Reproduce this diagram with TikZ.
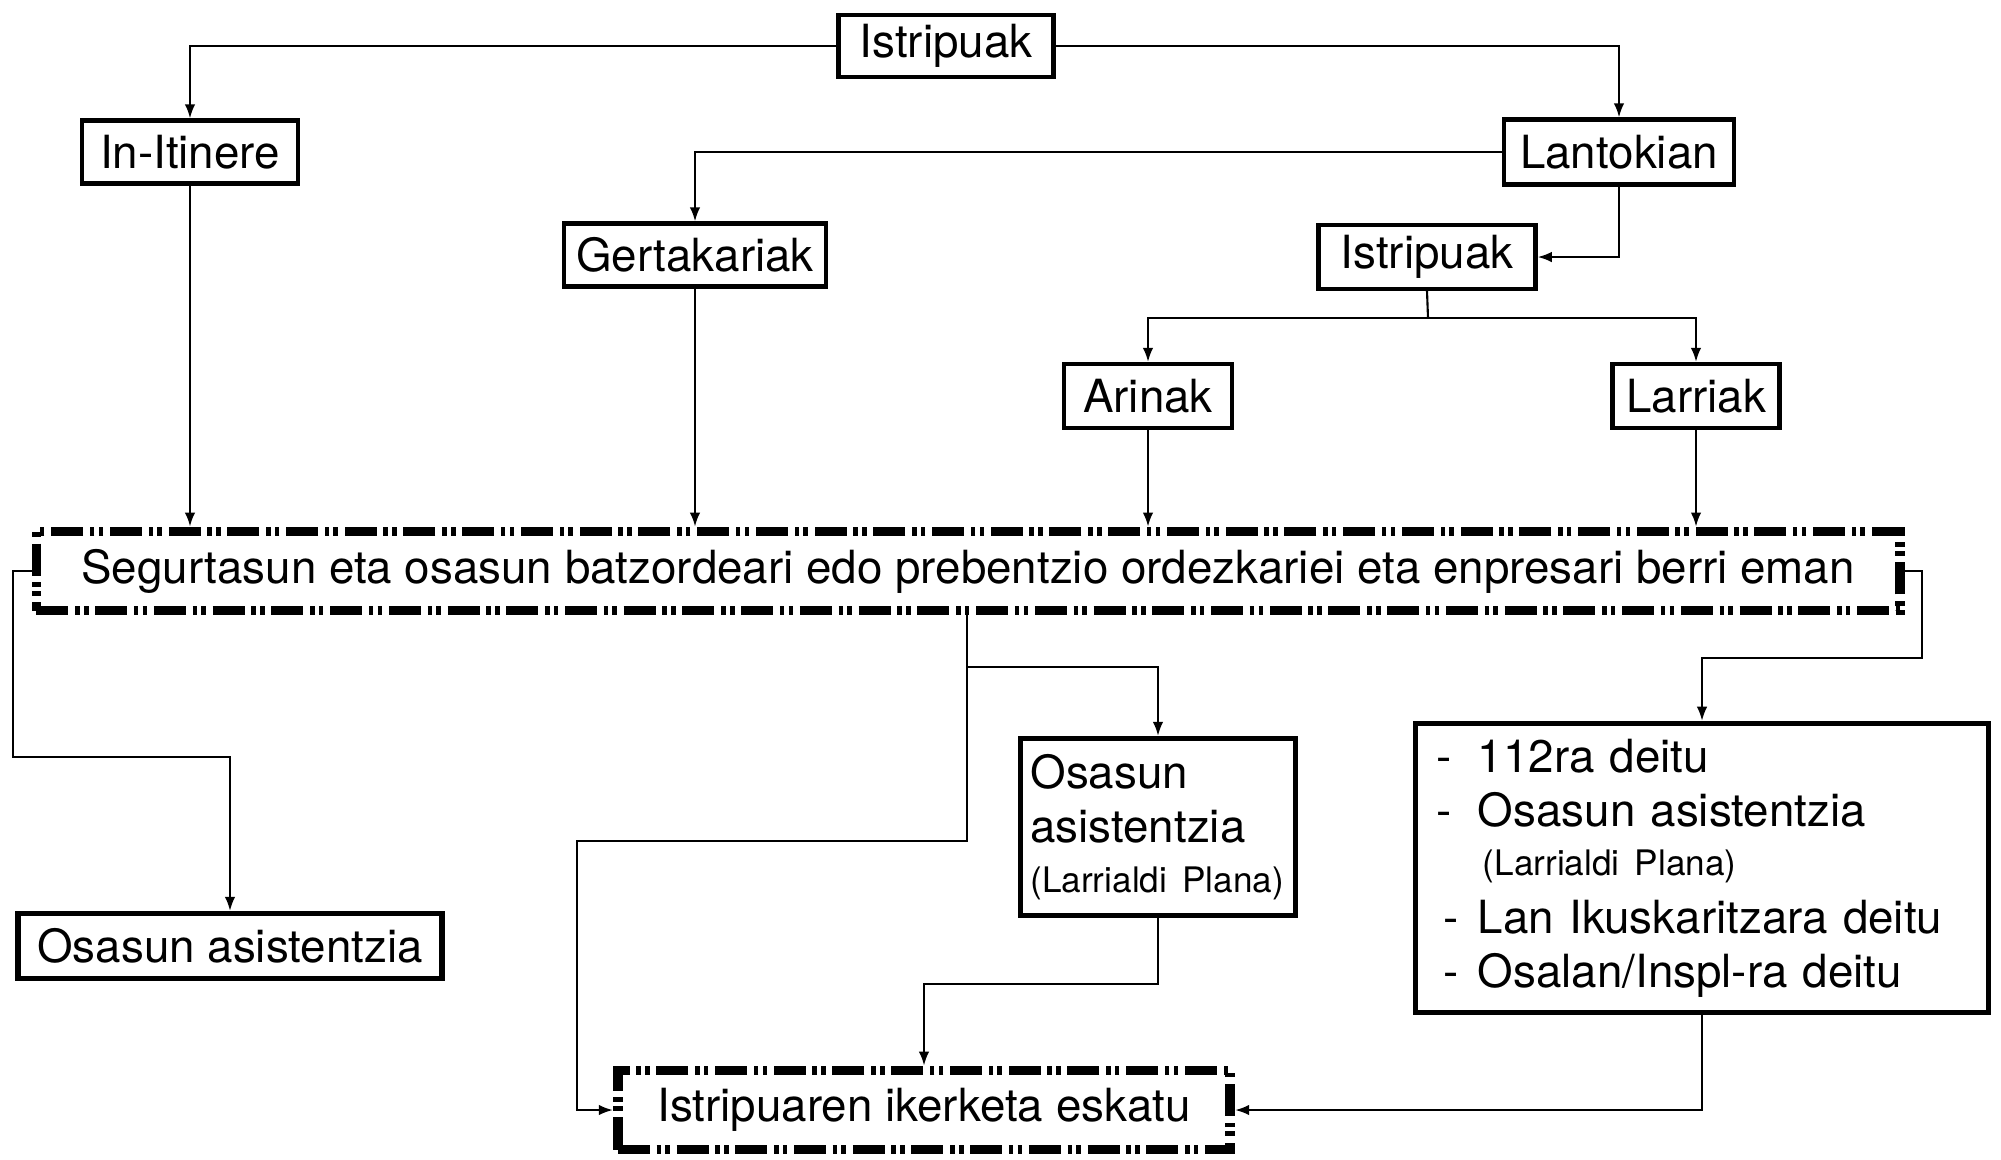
\documentclass[tikz,border=0pt]{standalone}
\usepackage{fontspec}
\setmainfont{TeX Gyre Heros}
\usetikzlibrary{arrows.meta}

\newcommand{\deitulerro}[2][0pt]{\hspace*{#1}\makebox[\dimexpr0.41cm-#1\relax][l]{-}#2}

\begin{document}
\begin{tikzpicture}[x=0.01cm,y=-0.01cm,
    >={Latex[length=4pt,width=3pt]},
    every path/.style={line width=0.6pt},
    smallbox/.style={draw,line width=1.2pt,inner sep=0pt,
      font=\fontsize{13}{15.4}\selectfont},
    bigbox/.style={draw,line width=1.5pt,inner sep=0pt,
      font=\fontsize{13}{15.4}\selectfont},
    dashdotbox/.style={draw,line width=2.8pt,inner sep=0pt,
      dash pattern=on 9.1pt off 1.9pt on 1.3pt off 1.2pt on 1.3pt off 1.9pt,
      font=\fontsize{13}{15.4}\selectfont}]
  \useasboundingbox (0,0) rectangle (2001,1159);

  \node[smallbox,minimum width=2.15cm,minimum height=0.62cm] (top) at (946,46) {Istripuak};
  \node[smallbox,minimum width=2.16cm,minimum height=0.63cm] (itin) at (190,152) {In-Itinere};
  \node[smallbox,minimum width=2.30cm,minimum height=0.65cm] (lant) at (1619,152) {Lantokian};
  \node[smallbox,minimum width=2.62cm,minimum height=0.63cm] (gert) at (695,255) {Gertakariak};
  \node[smallbox,minimum width=2.17cm,minimum height=0.64cm] (istr) at (1427,257) {Istripuak};
  \node[smallbox,minimum width=1.68cm,minimum height=0.64cm] (arin) at (1148,396) {Arinak};
  \node[smallbox,minimum width=1.67cm,minimum height=0.64cm] (larr) at (1696,396) {Larriak};

  \node[dashdotbox,minimum width=18.62cm,minimum height=0.79cm] (segur) at (968,571)
    {Segurtasun eta osasun batzordeari edo prebentzio ordezkariei eta enpresari berri eman};

  \node[bigbox,minimum width=4.24cm,minimum height=0.65cm] (osasL) at (230,946) {Osasun asistentzia};
  \node[bigbox,minimum width=2.75cm,minimum height=1.77cm,text width=2.55cm,align=left] (osasM) at (1158,827)
    {Osasun\\ asistentzia\\[-1.4pt] {\fontsize{10}{12}\selectfont (Larrialdi Plana)}};
  \node[bigbox,minimum width=5.73cm,minimum height=2.89cm,text width=5.3cm,align=left] (deitu) at (1702,868)
    {\deitulerro{112ra deitu}\\
     \deitulerro{Osasun asistentzia}\\[-1.4pt]
     \hspace*{0.46cm}{\fontsize{10}{12}\selectfont (Larrialdi Plana)}\\[1pt]
     \deitulerro[0.07cm]{Lan Ikuskaritzara deitu}\\
     \deitulerro[0.07cm]{Osalan/Inspl-ra deitu}};

  \node[dashdotbox,minimum width=6.12cm,minimum height=0.79cm] (iker) at (924,1110)
    {Istripuaren ikerketa eskatu};

  \coordinate (split) at (1428,318);
  \coordinate (lbend) at (13,757);
  \coordinate (rbend) at (1922,658);
  \coordinate (fork) at (967,667);
  \coordinate (dropM) at (967,841);
  \coordinate (dropL) at (577,841);
  \coordinate (mbend) at (1158,984);

  \draw[->] (top.west) -| (itin.north);
  \draw[->] (top.east) -| (lant.north);
  \draw[->] (lant.west) -| (gert.north);
  \draw[->] (lant.south) |- (istr.east);

  \draw (istr.south) -- (split);
  \draw[->] (split) -| (arin.north);
  \draw[->] (split) -| (larr.north);

  \draw[->] (itin.south) -- (itin.south |- segur.north);
  \draw[->] (gert.south) -- (gert.south |- segur.north);
  \draw[->] (arin.south) -- (arin.south |- segur.north);
  \draw[->] (larr.south) -- (larr.south |- segur.north);

  \draw[->] (segur.west) -| (lbend) -| (osasL.north);
  \draw (segur.south -| fork) -- (fork);
  \draw[->] (fork) -| (osasM.north);
  \draw[->] (fork) -- (dropM) -- (dropL) |- (iker.west);
  \draw[->] (segur.east) -| (rbend) -| (deitu.north);

  \draw[->] (osasM.south) -- (mbend) -| (iker.north);
  \draw[->] (deitu.south) |- (iker.east);
\end{tikzpicture}
\end{document}
